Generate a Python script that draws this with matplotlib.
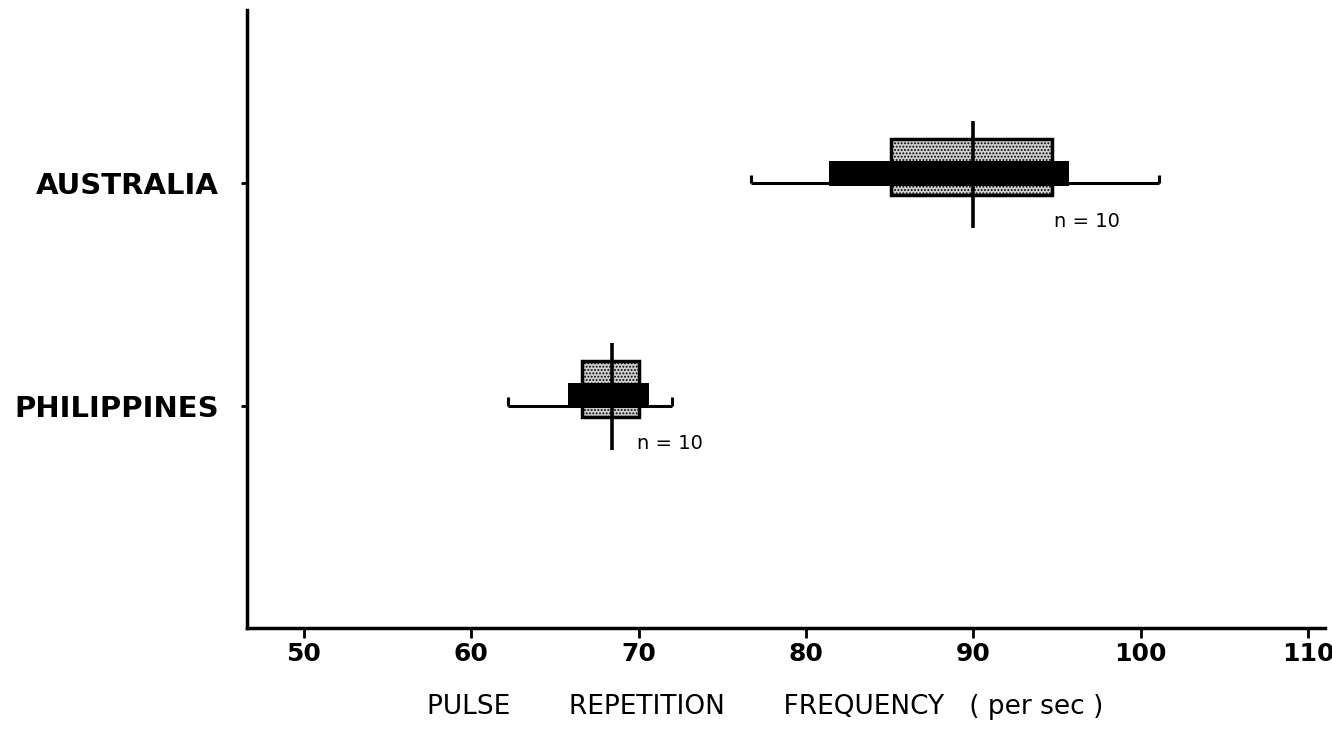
import matplotlib.pyplot as plt

# --- Data (pulse repetition frequency, per sec) ---
groups = ['PHILIPPINES', 'AUSTRALIA']
group_pos = [1, 2]
range_lo = [62.2, 76.7]
range_hi = [72.0, 101.1]
black_lo = [65.8, 81.4]
black_hi = [70.6, 95.7]
box_lo = [66.6, 85.1]
box_hi = [70.0, 94.7]
means = [68.4, 90.0]
n_labels = ['n = 10', 'n = 10']
n_label_x = [69.9, 94.8]
xticks = [50, 60, 70, 80, 90, 100, 110]

plt.rcParams['hatch.linewidth'] = 0.9

fig = plt.figure(figsize=(13.32, 7.30), dpi=100)
ax = fig.add_axes([0.1854, 0.1397, 0.8093, 0.8466])

for i, y in enumerate(group_pos):
    # stippled box
    ax.barh(y - 0.05, box_hi[i] - box_lo[i], left=box_lo[i], height=0.25,
            align='edge', facecolor='#cfcfcf', edgecolor='black', hatch='.....',
            linewidth=2.5, zorder=2)
    # black bar
    ax.barh(y - 0.01, black_hi[i] - black_lo[i], left=black_lo[i], height=0.11,
            align='edge', color='black', zorder=3)
    # range line with little end hooks
    ax.hlines(y, range_lo[i], range_hi[i], color='black', linewidth=2.2, zorder=3)
    ax.vlines([range_lo[i], range_hi[i]], y, y + 0.04, color='black', linewidth=2.2, zorder=3)
    # mean
    ax.vlines(means[i], y - 0.2, y + 0.28, color='black', linewidth=2.6, zorder=4)
    ax.text(n_label_x[i], y - 0.17, n_labels[i], fontsize=14, va='center', ha='left',
            family='DejaVu Sans')

ax.set_xlim(46.6, 111)
ax.set_ylim(0, 2.78)
ax.set_xticks(xticks)
ax.set_xticklabels([str(t) for t in xticks], fontsize=18, fontweight='bold')
ax.set_yticks(group_pos)
ax.set_yticklabels(groups, fontsize=21, fontweight='bold')
ax.tick_params(axis='x', length=7, width=2, pad=3)
ax.tick_params(axis='y', length=4, width=2, pad=16)

for side in ['top', 'right']:
    ax.spines[side].set_visible(False)
for side in ['left', 'bottom']:
    ax.spines[side].set_linewidth(2.5)

ax.set_xlabel('PULSE       REPETITION       FREQUENCY   ( per sec )', fontsize=19)
ax.xaxis.set_label_coords(0.4805, -0.107)

fig.savefig('out.png', dpi=100)
